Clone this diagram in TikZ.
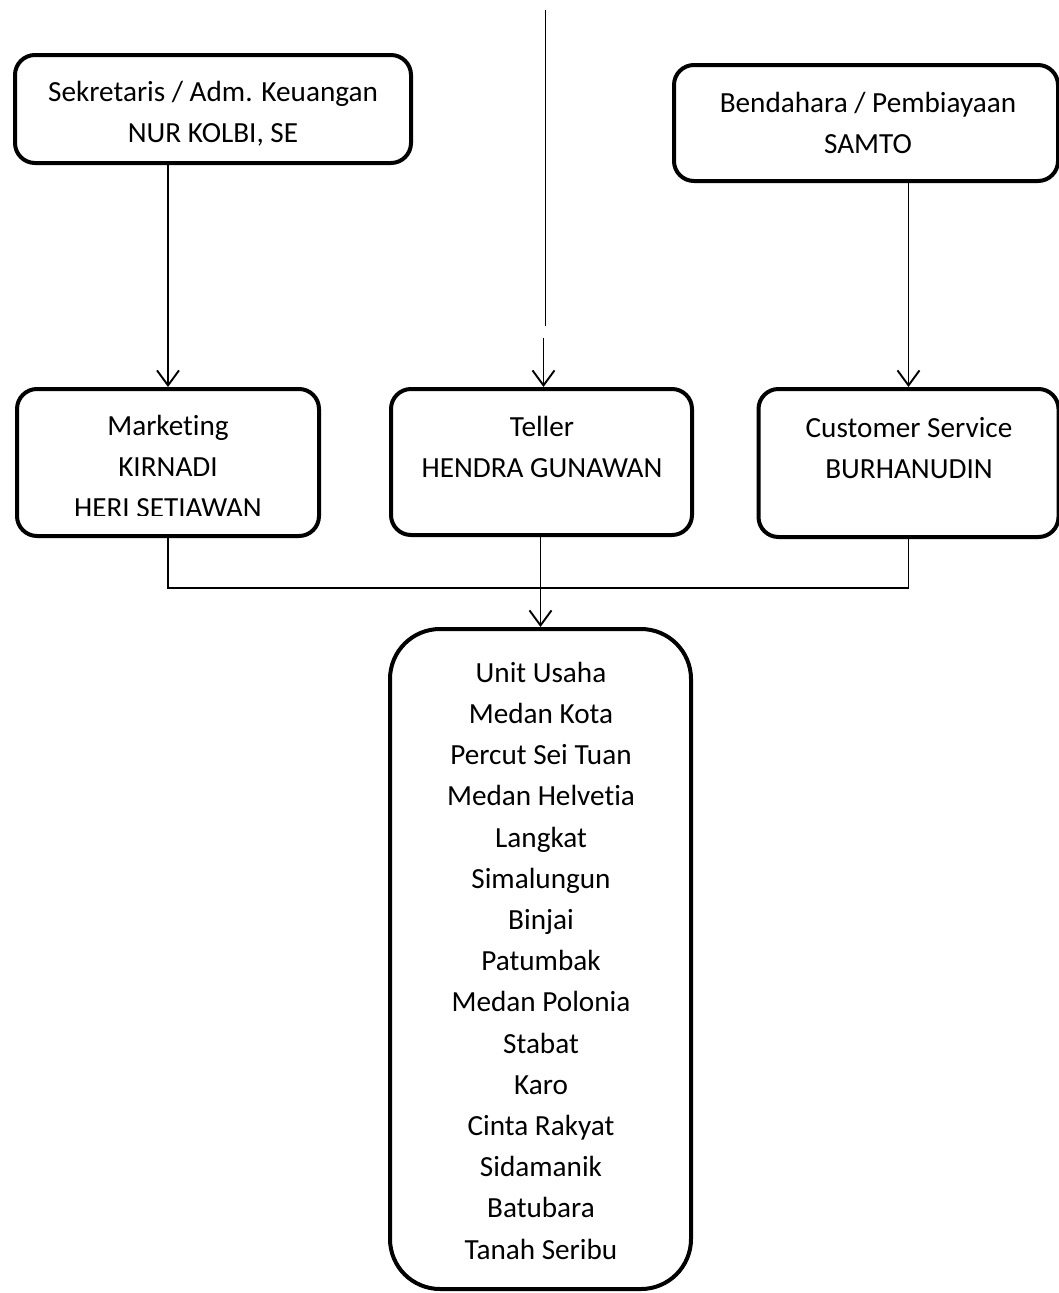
\documentclass[tikz,border=0pt]{standalone}
\usepackage{fontspec}
\setmainfont{Carlito}[Ligatures={NoCommon}]
\usetikzlibrary{arrows.meta}
\begin{document}
\begin{tikzpicture}[x=1pt,y=-1pt,
  box/.style={draw, line width=4pt, rounded corners=20pt, inner sep=0pt},
  bigbox/.style={box, rounded corners=50pt},
  txt/.style={font=\fontsize{29.2}{41.2}\selectfont, align=center, inner sep=0pt, anchor=north},
  arr/.style={line width=1.9pt, -{Straight Barb[length=15pt,width=22pt,line width=1.9pt]}},
  plainline/.style={line width=1.9pt},
  conn/.style={line width=1.3pt}]
\useasboundingbox (0,0) rectangle (1059,1293);
\clip (0,0) rectangle (1059,1293);

% boxes
\node[box, minimum width=396pt, minimum height=108pt] (sek) at (213,109) {};
\node[box, minimum width=384pt, minimum height=116pt] (ben) at (866,123) {};
\node[box, minimum width=302pt, minimum height=147pt] (mkt) at (168,462.5) {};
\node[box, minimum width=301pt, minimum height=146pt] (tel) at (541.5,462) {};
\node[box, minimum width=300pt, minimum height=148pt] (cs) at (908.5,463) {};
\node[bigbox, minimum width=301pt, minimum height=660pt] (unit) at (540.5,959) {};

% texts
\node[txt] (sekt) at (213,79) {\rule{0pt}{22pt}Sekretaris / Adm. Keuangan\\NUR KOLBI, SE};
\node[txt] (bent) at (868,90) {\rule{0pt}{22pt}Bendahara / Pembiayaan\\SAMTO};
\begin{scope}
  \clip (0,0) rectangle (1059,515);
  \node[txt] (mktt) at (168,413) {\rule{0pt}{22pt}Marketing\\KIRNADI\\HERI SETIAWAN};
\end{scope}
\node[txt] (telt) at (542,414) {\rule{0pt}{22pt}Teller\\HENDRA GUNAWAN};
\node[txt] (cst) at (909,415) {\rule{0pt}{22pt}Customer Service\\BURHANUDIN};
\node[txt] (unitt) at (541,660) {\rule{0pt}{22pt}Unit Usaha\\Medan Kota\\Percut Sei Tuan\\Medan Helvetia\\Langkat\\Simalungun\\Binjai\\Patumbak\\Medan Polonia\\Stabat\\Karo\\Cinta Rakyat\\Sidamanik\\Batubara\\Tanah Seribu};

% connectors
\coordinate (top1) at (545.5,10);
\coordinate (top2) at (545.5,326);
\coordinate (tin) at (543.5,338);
\draw[plainline] (top1) -- (top2);
\draw[arr] (tin) -- (tin |- tel.north);
\draw[arr] (sek.south -| mkt.north) -- (mkt.north);
\draw[arr] (ben.south -| cs.north) -- (cs.north);
\draw[conn] (mkt.south) -- ++(0,50) -| (cs.south);
\draw[arr] (unit.north |- tel.south) -- (unit.north);
\end{tikzpicture}
\end{document}
